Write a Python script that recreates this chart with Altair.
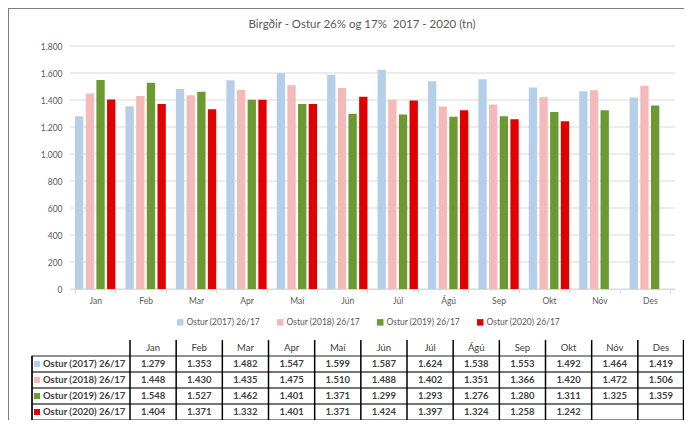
import altair as alt
import pandas as pd

# ---------------- data ----------------
months = ["Jan", "Feb", "Mar", "Apr", "Maí", "Jún", "Júl", "Ágú", "Sep", "Okt", "Nóv", "Des"]
series = ["Ostur (2017) 26/17", "Ostur (2018) 26/17", "Ostur (2019) 26/17", "Ostur (2020) 26/17"]
v2017 = [1279, 1353, 1482, 1547, 1599, 1587, 1624, 1538, 1553, 1492, 1464, 1419]
v2018 = [1448, 1430, 1435, 1475, 1510, 1488, 1402, 1351, 1366, 1420, 1472, 1506]
v2019 = [1548, 1527, 1462, 1401, 1371, 1299, 1293, 1276, 1280, 1311, 1325, 1359]
v2020 = [1404, 1371, 1332, 1401, 1371, 1424, 1397, 1324, 1258, 1242, None, None]
y_ticks = [0, 200, 400, 600, 800, 1000, 1200, 1400, 1600, 1800]
title_text = "Birgðir - Ostur 26% og 17%\u00a0\u00a02017 - 2020 (tn)"
header_row = "hdr"

palette = ["#B4CFE7", "#F4B9B9", "#6B9A33", "#E00000"]

rows = []
for s, vals in zip(series, [v2017, v2018, v2019, v2020]):
    for m, v in zip(months, vals):
        if v is not None:
            rows.append({"month": m, "series": s, "value": v})
df = pd.DataFrame(rows)
df_months = pd.DataFrame({"month": months, "row": header_row})
df_series = pd.DataFrame({"series": series})
df_ticks = pd.DataFrame({"value": y_ticks})
dummy = alt.Data(values=[{}])

FONT = "Lato"
W, H = 676, 412
GRAY = "#595959"
DARK = "#404040"
fmt_expr = "replace(format(datum.value, ','), ',', '.')"

# ---------------- bar chart ----------------
xs = alt.Scale(domain=months, range=[62, 667], paddingInner=0.2, paddingOuter=0.1)
ys = alt.Scale(domain=[0, 1800], range=[281, 38], nice=False)

x_enc = alt.X("month:N", sort=months, scale=xs,
              axis=alt.Axis(title=None, orient="bottom", offset=-131, labelAngle=0,
                            labelFont=FONT, labelFontSize=8.5, labelColor=GRAY,
                            labelPadding=3, tickBand="extent", tickSize=4,
                            tickColor="#D9D9D9", domainColor="#D9D9D9", grid=False))
y_enc = alt.Y("value:Q", scale=ys,
              axis=alt.Axis(title=None, orient="left", offset=-62, values=y_ticks,
                            domain=False, ticks=False, grid=False, labelPadding=8,
                            labelFont=FONT, labelFontSize=8.5, labelColor=GRAY,
                            labelExpr=fmt_expr))

grid = alt.Chart(df_ticks).mark_rule(color="#D9D9D9", strokeWidth=1).encode(
    y=y_enc, x=alt.value(62), x2=alt.value(667))

bars = alt.Chart(df).mark_bar().encode(
    x=x_enc,
    y=y_enc,
    xOffset=alt.XOffset("series:N", sort=series,
                        scale=alt.Scale(domain=series, paddingInner=0.22, paddingOuter=0)),
    color=alt.Color("series:N", sort=series,
                    scale=alt.Scale(domain=series, range=palette),
                    legend=alt.Legend(title=None, orient="none", legendX=168, legendY=310,
                                      direction="horizontal", columns=4,
                                      symbolType="square", symbolSize=42,
                                      symbolStrokeWidth=0, labelFont=FONT,
                                      labelFontSize=8.5, labelColor=GRAY,
                                      labelOffset=2, columnPadding=16)),
)

bar_group = alt.layer(grid, bars)

# ---------------- data table ----------------
tx = alt.Scale(domain=months, range=[122, 676], paddingInner=0, paddingOuter=0)
ty = alt.Scale(domain=[header_row] + series, range=[332, 412], paddingInner=0, paddingOuter=0)

row_boxes = alt.Chart(df_series).mark_rect(fillOpacity=0, stroke="#6E6E6E", strokeWidth=1.3).encode(
    y=alt.Y("series:N", scale=ty, axis=None), x=alt.value(24), x2=alt.value(676))

vlines = alt.Chart(df_months).mark_rule(color="black", strokeWidth=1.5).encode(
    x=alt.X("month:N", scale=tx, bandPosition=0, axis=None),
    y=alt.value(332), y2=alt.value(412))

right_line = alt.Chart(dummy).mark_rule(color="black", strokeWidth=1.5).encode(
    x=alt.value(675.5), y=alt.value(332), y2=alt.value(412))
left_line = alt.Chart(dummy).mark_rule(color="black", strokeWidth=1.5).encode(
    x=alt.value(24), y=alt.value(348), y2=alt.value(412))

hdr_text = alt.Chart(df_months).mark_text(font=FONT, fontSize=9.5, color=DARK).encode(
    x=alt.X("month:N", scale=tx, axis=None),
    y=alt.Y("row:N", scale=ty, axis=None),
    text="month:N")

val_text = alt.Chart(df).transform_calculate(
    label=fmt_expr
).mark_text(font=FONT, fontSize=9.5, fontWeight="bold", color=DARK).encode(
    x=alt.X("month:N", scale=tx, axis=None),
    y=alt.Y("series:N", scale=ty, axis=None),
    text="label:N")

row_label = alt.Chart(df_series).mark_text(font=FONT, fontSize=9.5, fontWeight="bold",
                                           color=DARK, align="left").encode(
    x=alt.value(35), y=alt.Y("series:N", scale=ty, axis=None), text="series:N")

row_swatch = alt.Chart(df_series).mark_square(size=36, opacity=1).encode(
    x=alt.value(29), y=alt.Y("series:N", scale=ty, axis=None),
    color=alt.Color("series:N", scale=alt.Scale(domain=series, range=palette), legend=None))

table_group = alt.layer(row_boxes, vlines, right_line, left_line, hdr_text, val_text,
                        row_label, row_swatch)

# ---------------- frame and title ----------------
frame_left = alt.Chart(dummy).mark_rule(color="#7F7F7F", strokeWidth=2).encode(
    x=alt.value(0), y=alt.value(0), y2=alt.value(H))
frame_top = alt.Chart(dummy).mark_rule(color="#7F7F7F", strokeWidth=2).encode(
    y=alt.value(0), x=alt.value(0), x2=alt.value(W))
title = alt.Chart(dummy).mark_text(text=title_text, font=FONT, fontSize=11.5,
                                   color=GRAY).encode(x=alt.value(354), y=alt.value(17))

chart = alt.layer(frame_left, frame_top, title, bar_group, table_group).resolve_scale(
    x="independent", y="independent", color="independent"
).properties(
    width=W, height=H, padding=0, autosize=alt.AutoSizeParams(type="none"),
    background="white"
).configure_view(stroke=None)

chart.save("out.html", embed_options={"renderer": "svg", "actions": False})
